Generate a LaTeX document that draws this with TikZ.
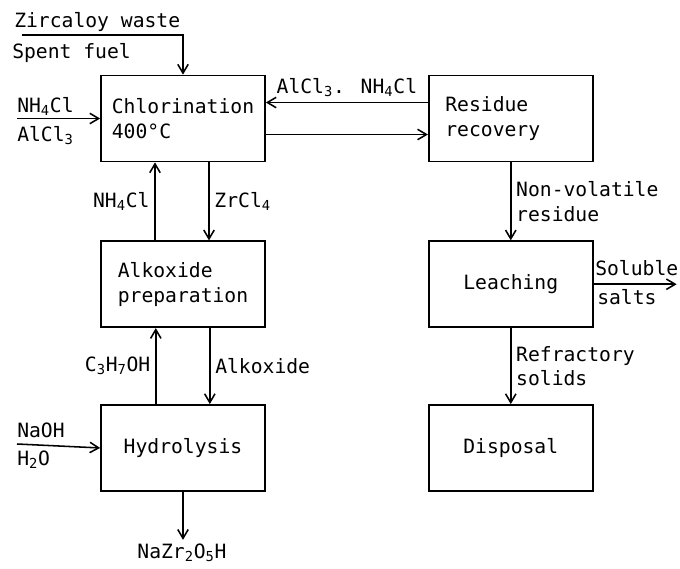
\documentclass[tikz,border=0pt]{standalone}
\usepackage{fontspec}
\setmainfont{DejaVu Sans Mono}
\usetikzlibrary{arrows.meta,positioning}

\begin{document}
\begin{tikzpicture}[
    x=0.025cm, y=-0.025cm,
    font=\fontsize{14}{17.5}\selectfont,
    proc/.style={rectangle, draw, line width=1.2pt, minimum width=4.1cm, minimum height=2.15cm, inner sep=0pt, align=left},
    flow/.style={-{Straight Barb[length=2.2mm,width=2.6mm]}, line width=1.1pt},
    txt/.style={inner sep=0pt},
    node distance=1.95cm and 4.05cm
]
    \useasboundingbox (0,0) rectangle (680,568);

    % Process boxes, left column
    \node[proc]                        (chlor) at (183,118.5) {Chlorination\\400°C};
    \node[proc, below=of chlor]        (alkox) {Alkoxide\\preparation};
    \node[proc, below=1.9cm of alkox]  (hydro) {Hydrolysis};

    % Process boxes, right column
    \node[proc, right=of chlor]        (resid) {Residue\\recovery\hspace*{0.9cm}};
    \node[proc, below=of resid]        (leach) {Leaching};
    \node[proc, below=1.9cm of leach]  (disp)  {Disposal};

    % Free ends of feeds and products
    \coordinate (feedtop) at (22,35);
    \coordinate (feedchl) at (17,118.5);
    \coordinate (feedhyd) at (17,444);
    \coordinate[below=1.2cm of hydro]        (prod);
    \coordinate[right=2.075cm of leach.east] (salts);

    % Feed and product texts
    \node[txt, anchor=base west] (zirc)  at (14,27)  {Zircaloy waste};
    \node[txt, anchor=base west] (spent) at (12,58)  {Spent fuel};
    \node[txt, anchor=base west] (nhin)  at (17,112) {NH\textsubscript{4}Cl};
    \node[txt, anchor=base west] (alin)  at (17,141) {AlCl\textsubscript{3}};
    \node[txt, anchor=base west] (naoh)  at (17,437) {NaOH};
    \node[txt, anchor=base west] (water) at (17,465) {H\textsubscript{2}O};
    \node[txt, anchor=base]      (nazr)  at (182,558) {NaZr\textsubscript{2}O\textsubscript{5}H};
    \node[txt, anchor=base west] (solub) at (595,275) {Soluble};
    \node[txt, anchor=base west] (slts)  at (597,304) {salts};

    % Feeds
    \draw[flow] (feedtop) -| (chlor.north);
    \draw[flow] (feedchl) -- (chlor.west);
    \draw[flow] (feedhyd) -- (hydro.west);

    % Chlorination <-> residue recovery
    \draw[flow] ([yshift=0.4cm]resid.west) -- node[above] {AlCl\textsubscript{3}. NH\textsubscript{4}Cl} ([yshift=0.4cm]chlor.east);
    \draw[flow] ([yshift=-0.4cm]chlor.east) -- ([yshift=-0.4cm]resid.west);

    % Left column loops
    \draw[flow] ([xshift=-0.7cm]alkox.north) -- node[left] {NH\textsubscript{4}Cl} ([xshift=-0.7cm]chlor.south);
    \draw[flow] ([xshift=0.65cm]chlor.south) -- node[right] {ZrCl\textsubscript{4}} ([xshift=0.65cm]alkox.north);
    \draw[flow] ([xshift=-0.68cm]hydro.north) -- node[left] {C\textsubscript{3}H\textsubscript{7}OH} ([xshift=-0.68cm]alkox.south);
    \draw[flow] ([xshift=0.67cm]alkox.south) -- node[right] {Alkoxide} ([xshift=0.67cm]hydro.north);
    \draw[flow] (hydro.south) -- (prod);

    % Right column
    \draw[flow] (resid) -- node[right, align=left] {Non-volatile\\residue} (leach);
    \draw[flow] (leach) -- node[right, align=left] {Refractory\\solids} (disp);
    \draw[flow] (leach.east) -- (salts);

\end{tikzpicture}
\end{document}
